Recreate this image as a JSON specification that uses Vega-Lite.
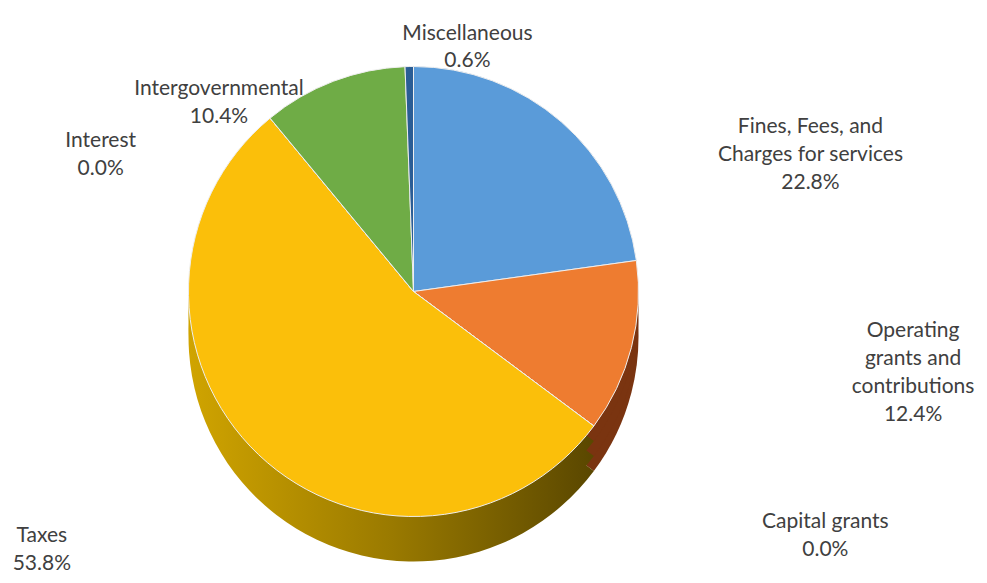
{
  "$schema": "https://vega.github.io/schema/vega-lite/v6.json",
  "width": 827,
  "height": 583,
  "autosize": {"type": "none"},
  "padding": {"left": 0, "right": 160, "top": 0, "bottom": 0},
  "background": "white",
  "config": {"view": {"stroke": null}},
  "data": {
    "values": [
      {"idx": 1, "category": "Fines, Fees, and\nCharges for services", "value": 22.8},
      {"idx": 2, "category": "Operating\ngrants and\ncontributions", "value": 12.4},
      {"idx": 3, "category": "Capital grants", "value": 0.0},
      {"idx": 4, "category": "Taxes", "value": 53.8},
      {"idx": 5, "category": "Interest", "value": 0.0},
      {"idx": 6, "category": "Intergovernmental", "value": 10.4},
      {"idx": 7, "category": "Miscellaneous", "value": 0.6}
    ]
  },
  "transform": [
    {"stack": "value", "groupby": [], "sort": [{"field": "idx", "order": "ascending"}], "as": ["v0", "v1"]},
    {"calculate": "(datum.v0 + datum.v1) / 2", "as": "mid"},
    {"calculate": "datum.category + '\\n' + format(datum.value / 100, '.1%')", "as": "label"}
  ],
  "layer": [
    {
      "transform": [{"filter": "datum.idx != 4"}],
      "layer": [
        {"mark": {"type": "arc", "outerRadius": 225, "yOffset": 45}},
        {"mark": {"type": "arc", "outerRadius": 225, "yOffset": 30}},
        {"mark": {"type": "arc", "outerRadius": 225, "yOffset": 15}}
      ],
      "encoding": {
        "theta": {"field": "v0", "type": "quantitative", "scale": {"domain": [0, 100]}},
        "theta2": {"field": "v1"},
        "color": {"field": "idx", "type": "nominal", "legend": null,
          "scale": {"domain": [1,2,3,5,6,7], "range": ["#2f6ea8", "#7a3410", "#5a1e08", "#a08000", "#4a7a2c", "#1e3f68"]}}
      }
    },
    {
      "transform": [{"filter": "datum.idx == 4"}],
      "layer": [
        {"mark": {"type": "arc", "outerRadius": 225, "yOffset": 45, "color": {"gradient": "linear", "x1": 0, "x2": 1, "y1": 0, "y2": 0, "stops": [{"offset": 0, "color": "#d0a400"}, {"offset": 0.5, "color": "#9a7a00"}, {"offset": 1, "color": "#5a4700"}]}}},
        {"mark": {"type": "arc", "outerRadius": 225, "yOffset": 30, "color": {"gradient": "linear", "x1": 0, "x2": 1, "y1": 0, "y2": 0, "stops": [{"offset": 0, "color": "#d0a400"}, {"offset": 0.5, "color": "#9a7a00"}, {"offset": 1, "color": "#5a4700"}]}}},
        {"mark": {"type": "arc", "outerRadius": 225, "yOffset": 15, "color": {"gradient": "linear", "x1": 0, "x2": 1, "y1": 0, "y2": 0, "stops": [{"offset": 0, "color": "#d0a400"}, {"offset": 0.5, "color": "#9a7a00"}, {"offset": 1, "color": "#5a4700"}]}}}
      ],
      "encoding": {
        "theta": {"field": "v0", "type": "quantitative", "scale": {"domain": [0, 100]}},
        "theta2": {"field": "v1"}
      }
    },
    {
      "mark": {"type": "arc", "outerRadius": 225, "stroke": "#eeeeee", "strokeWidth": 1},
      "encoding": {
        "theta": {"field": "v0", "type": "quantitative", "scale": {"domain": [0, 100]}},
        "theta2": {"field": "v1"},
        "color": {"field": "idx", "type": "nominal", "legend": null,
          "scale": {"domain": [1,2,3,4,5,6,7], "range": ["#5a9bd9", "#ee7c30", "#9b3a12", "#fbbf0a", "#fbbf0a", "#6fac46", "#2a5d95"]}}
      }
    },
    {
      "encoding": {
        "theta": {"field": "mid", "type": "quantitative", "scale": {"domain": [0, 100]}},
        "text": {"field": "label", "type": "nominal"}
      },
      "layer": [
        {"transform": [{"filter": "datum.idx == 1"}], "mark": {"type": "text", "radius": 268, "dx": 221, "dy": 38, "font": "Lato", "fontSize": 21, "color": "#404040", "lineBreak": "\n", "lineHeight": 28, "align": "center", "baseline": "middle"}},
        {"transform": [{"filter": "datum.idx == 2"}], "mark": {"type": "text", "radius": 268, "dx": 240, "dy": -27, "font": "Lato", "fontSize": 21, "color": "#404040", "lineBreak": "\n", "lineHeight": 28, "align": "center", "baseline": "middle"}},
        {"transform": [{"filter": "datum.idx == 3"}], "mark": {"type": "text", "radius": 268, "dx": 197, "dy": 70, "font": "Lato", "fontSize": 21, "color": "#404040", "lineBreak": "\n", "lineHeight": 28, "align": "center", "baseline": "middle"}},
        {"transform": [{"filter": "datum.idx == 4"}], "mark": {"type": "text", "radius": 268, "dx": -187, "dy": 50, "font": "Lato", "fontSize": 21, "color": "#404040", "lineBreak": "\n", "lineHeight": 28, "align": "center", "baseline": "middle"}},
        {"transform": [{"filter": "datum.idx == 5"}], "mark": {"type": "text", "radius": 268, "dx": -142, "dy": 56, "font": "Lato", "fontSize": 21, "color": "#404040", "lineBreak": "\n", "lineHeight": 28, "align": "center", "baseline": "middle"}},
        {"transform": [{"filter": "datum.idx == 6"}], "mark": {"type": "text", "radius": 268, "dx": -99, "dy": 48, "font": "Lato", "fontSize": 21, "color": "#404040", "lineBreak": "\n", "lineHeight": 28, "align": "center", "baseline": "middle"}},
        {"transform": [{"filter": "datum.idx == 7"}], "mark": {"type": "text", "radius": 268, "dx": 59, "dy": 10, "font": "Lato", "fontSize": 21, "color": "#404040", "lineBreak": "\n", "lineHeight": 27, "align": "center", "baseline": "middle"}}
      ]
    }
  ],
  "resolve": {"scale": {"color": "independent"}}
}
